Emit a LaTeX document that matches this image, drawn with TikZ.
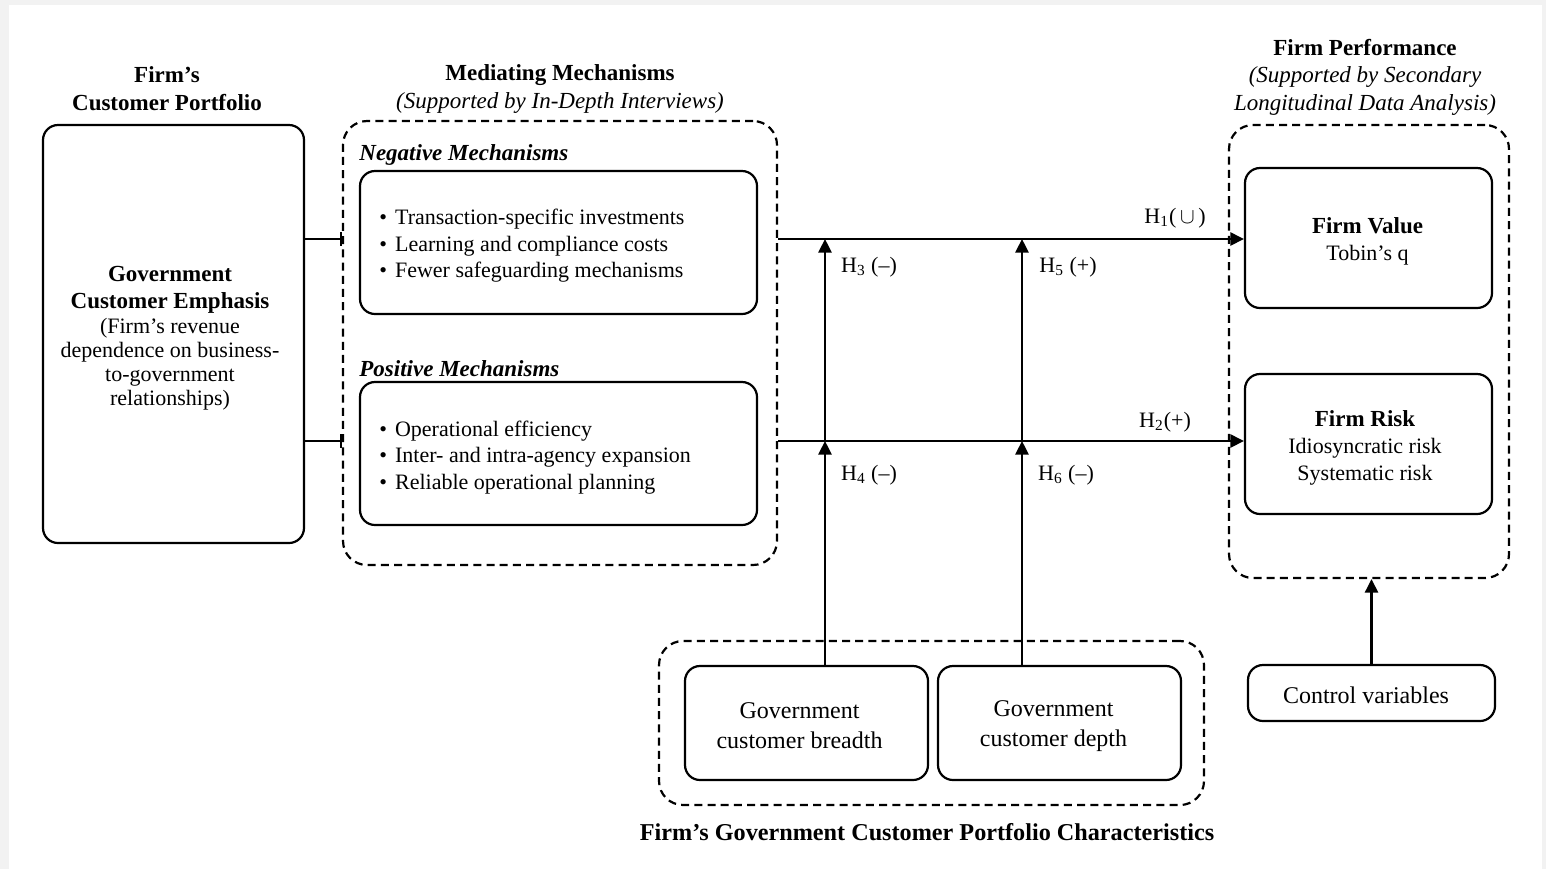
\documentclass[tikz,border=0pt]{standalone}
\usepackage{fontspec}
\setmainfont{Liberation Serif}
\usetikzlibrary{arrows.meta}
\begin{document}
\begin{tikzpicture}[x=0.5pt,y=-0.5pt,
  box/.style={draw, line width=1.1pt, rounded corners=7.5pt, inner sep=0pt, align=center},
  dbox/.style={draw, line width=1.1pt, dash pattern=on 4pt off 2.6pt, rounded corners=12pt, inner sep=0pt},
  txt/.style={inner sep=0pt, align=center},
  link/.style={line width=1.1pt},
  arr/.style={link, -{Triangle[length=6.8pt,width=6.6pt]}},
  tbar/.style={link, -{Bar[width=7pt,line width=1.1pt]}},
  lab/.style={font=\fontsize{11}{13}\selectfont, inner sep=0pt},
  ttl/.style={font=\fontsize{11.5}{14}\selectfont, inner sep=0pt, align=center},
  blist/.style={font=\fontsize{11}{13.25}\selectfont, inner sep=0pt, align=left, anchor=west},
  btxt/.style={font=\fontsize{11}{13.5}\selectfont},
  bigtxt/.style={font=\fontsize{12}{15}\selectfont}
]
% frame
\fill[gray!10] (0,0) rectangle (1546,869);
\fill[white] (9,5) rectangle (1542,869);
\useasboundingbox (0,0) rectangle (1546,869);

% titles
\node[ttl] (t1) at (167,89) {\bfseries Firm’s\\\bfseries Customer Portfolio};
\node[ttl] (t2) at (560,89) {\bfseries Mediating Mechanisms\\\itshape (Supported by In-Depth Interviews)};
\node[ttl, font=\fontsize{11.5}{13.75}\selectfont] (t3) at (1365,77) {\bfseries Firm Performance\\\itshape (Supported by Secondary\\\itshape Longitudinal Data Analysis)};
\node[ttl, font=\fontsize{12.1}{14}\selectfont] (t4) at (927,832) {\bfseries Firm’s Government Customer Portfolio Characteristics};

% left box
\node[box, minimum width=130.5pt, minimum height=209pt] (lb) at (173.5,334) {};
\node[txt, font=\fontsize{11}{12}\selectfont] (lbt) at (170,338)
 {{\fontsize{11.5}{12}\selectfont\bfseries Government}\\[1.6pt]{\fontsize{11.5}{12}\selectfont\bfseries Customer Emphasis}\\[0.6pt](Firm’s revenue\\dependence on business-\\to-government\\relationships)};

% mediating
\node[dbox, minimum width=217pt, minimum height=222pt] (med) at (560,343) {};
\node[ttl, anchor=west] (negl) at (359,155) {\bfseries\itshape Negative Mechanisms};
\node[box, minimum width=198.5pt, minimum height=71.5pt] (neg) at (558.5,242.5) {};
\node[blist] (negt) at (379,246) {\textbullet\hspace{4pt}Transaction-specific investments\\\textbullet\hspace{4pt}Learning and compliance costs\\\textbullet\hspace{4pt}Fewer safeguarding mechanisms};
\node[ttl, anchor=west] (posl) at (359,369) {\bfseries\itshape Positive Mechanisms};
\node[box, minimum width=198.5pt, minimum height=71.5pt] (pos) at (558.5,453.5) {};
\node[blist] (post) at (379,457.5) {\textbullet\hspace{4pt}Operational efficiency\\\textbullet\hspace{4pt}Inter- and intra-agency expansion\\\textbullet\hspace{4pt}Reliable operational planning};

% performance
\node[dbox, minimum width=140pt, minimum height=226.5pt] (perf) at (1369,351.5) {};
\node[box, minimum width=123.5pt, minimum height=70pt] (fv) at (1368.5,238) {};
\node[txt, btxt] (fvt) at (1367.5,241.5) {{\fontsize{11.5}{13.5}\selectfont\bfseries Firm Value}\\Tobin’s q};
\node[box, minimum width=123.5pt, minimum height=70pt] (fr) at (1368.5,444) {};
\node[txt, btxt] (frt) at (1365,447.5) {{\fontsize{11.5}{13.5}\selectfont\bfseries Firm Risk}\\Idiosyncratic risk\\Systematic risk};
\node[box, minimum width=123.5pt, minimum height=28pt] (cv) at (1371.5,693) {};
\node[txt, bigtxt] (cvt) at (1366,695) {Control variables};

% portfolio characteristics
\node[dbox, minimum width=272.5pt, minimum height=82pt] (port) at (931.5,723) {};
\node[box, minimum width=121.5pt, minimum height=57pt] (gb) at (806.5,723) {};
\node[txt, bigtxt] (gbt) at (799.5,726) {Government\\customer breadth};
\node[box, minimum width=121.5pt, minimum height=57pt] (gd) at (1059.5,723) {};
\node[txt, bigtxt] (gdt) at (1053.5,726) {Government\\customer depth};

% coordinates
\coordinate (y1) at (0,239);
\coordinate (y2) at (0,441);
\coordinate (c3) at (825,239);
\coordinate (c4) at (825,441);
\coordinate (c5) at (1022,239);
\coordinate (c6) at (1022,441);

% connectors
\draw[tbar] (lb.east |- y1) -- (med.west |- y1);
\draw[tbar] (lb.east |- y2) -- (med.west |- y2);
\draw[arr] (med.east |- y1) -- (fv.west |- y1);
\draw[arr] (med.east |- y2) -- (fr.west |- y2);
\draw[arr] (gb.north -| c4) -- (c4);
\draw[arr] (c4) -- (c3);
\draw[arr] (gd.north -| c6) -- (c6);
\draw[arr] (c6) -- (c5);
\draw[arr] (cv.north) -- (cv.north |- perf.south);

% labels
\node[lab] (h1) at (1175,218) {H\textsubscript{1}(\,\(\cup\)\,)};
\node[lab] (h2) at (1165,422) {H\textsubscript{2}(+)};
\node[lab] (h3) at (869,267) {H\textsubscript{3} (–)};
\node[lab] (h5) at (1068,267) {H\textsubscript{5} (+)};
\node[lab] (h4) at (869,475) {H\textsubscript{4} (–)};
\node[lab] (h6) at (1066,475) {H\textsubscript{6} (–)};
\end{tikzpicture}
\end{document}
